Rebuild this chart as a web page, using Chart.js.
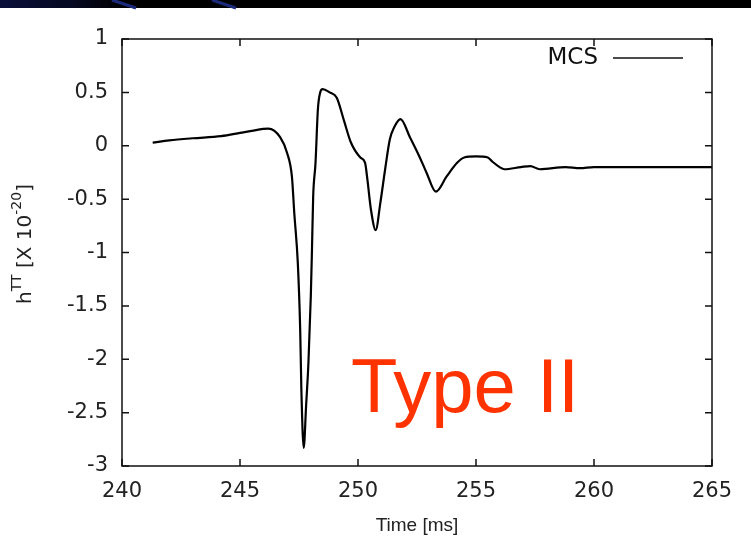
<!DOCTYPE html>
<html>
<head>
<meta charset="utf-8">
<script src="https://cdn.jsdelivr.net/npm/chart.js@4.4.1/dist/chart.umd.min.js"></script>
<style>
    body { margin: 0; background: #ffffff; }
    #wrap { width: 751px; height: 538px; position: relative; }
</style>
</head>
<body>
<div id="wrap"><canvas id="waveChart" width="751" height="538"></canvas></div>
<script>
// Zeitachse in ms
const times = [241.3, 242.0, 243.0, 244.2, 245.0, 245.5, 246.2, 246.7, 247.0, 247.2, 247.3, 247.45, 247.55, 247.6, 247.7,
    247.8, 247.9, 248.0, 248.05, 248.1, 248.2, 248.3, 248.4, 248.5, 248.8, 249.1, 249.4, 249.7, 250.1, 250.3,
    250.4, 250.55, 250.75, 250.95, 251.15, 251.35, 251.55, 251.8, 252.2, 252.6, 252.9, 253.3, 253.75, 254.2,
    254.5, 255.0, 255.5, 255.7, 256.0, 256.2, 256.9, 257.3, 257.7, 258.8, 259.4, 260.0, 261.0, 262.0, 263.0, 264.0, 265.0]
// h^TT Werte [x 10^-20]
const strain = [0.03, 0.05, 0.07, 0.09, 0.12, 0.14, 0.16, 0.08, -0.07, -0.29, -0.63, -1.1, -1.72, -2.28, -2.83,
    -2.44, -2.03, -1.41, -0.97, -0.48, -0.16, 0.34, 0.5, 0.53, 0.5, 0.45, 0.24, 0.03, -0.11, -0.16,
    -0.32, -0.6, -0.79, -0.53, -0.22, 0.06, 0.18, 0.25, 0.08, -0.1, -0.25, -0.43, -0.29, -0.16,
    -0.11, -0.1, -0.11, -0.15, -0.2, -0.22, -0.2, -0.19, -0.22, -0.2, -0.21, -0.2, -0.2, -0.2, -0.2, -0.2, -0.2]
const xTicks = [240, 245, 250, 255, 260, 265]
const yTicks = [1, 0.5, 0, -0.5, -1, -1.5, -2, -2.5, -3]
const seriesName = "MCS"
const typeLabel = "Type II"

let points = []
for (let i = 0; i < times.length; i++) {
    points.push({ x: times[i], y: strain[i] })
}

const fontName = "'Liberation Sans', Arial, sans-serif"
const tickFont = "'DejaVu Sans', sans-serif"

// Rahmen, Ticks nach innen, Legende, Titel (gnuplot Stil)
const gnuplotFrame = {
    id: 'gnuplotFrame',
    beforeDraw(chart) {
        let ctx = chart.ctx
        ctx.save()
        ctx.fillStyle = '#ffffff'
        ctx.fillRect(0, 0, chart.width, chart.height)
        // dunkler Folienrand oben
        let grad = ctx.createLinearGradient(0, 0, 500, 0)
        grad.addColorStop(0, '#0a0f3a')
        grad.addColorStop(0.15, '#05081f')
        grad.addColorStop(0.25, '#000000')
        grad.addColorStop(1, '#000000')
        ctx.fillStyle = grad
        ctx.fillRect(0, 0, chart.width, 8)
        ctx.strokeStyle = '#1b2a7a'
        ctx.lineWidth = 3
        ctx.beginPath()
        ctx.moveTo(112, 0); ctx.lineTo(136, 8)
        ctx.moveTo(212, 0); ctx.lineTo(236, 8)
        ctx.stroke()
        ctx.restore()
    },
    afterDraw(chart) {
        let ctx = chart.ctx
        let area = chart.chartArea
        let xs = chart.scales.x
        let ys = chart.scales.y
        ctx.save()
        ctx.strokeStyle = '#111111'
        ctx.lineWidth = 1.5
        ctx.strokeRect(area.left, area.top, area.right - area.left, area.bottom - area.top)
        ctx.beginPath()
        for (let v of xTicks) {
            let px = xs.getPixelForValue(v)
            ctx.moveTo(px, area.bottom); ctx.lineTo(px, area.bottom - 7)
            ctx.moveTo(px, area.top); ctx.lineTo(px, area.top + 7)
        }
        for (let v of yTicks) {
            let py = ys.getPixelForValue(v)
            ctx.moveTo(area.left, py); ctx.lineTo(area.left + 7, py)
            ctx.moveTo(area.right, py); ctx.lineTo(area.right - 7, py)
        }
        ctx.stroke()

        // Legende
        ctx.fillStyle = '#111111'
        ctx.font = '23px ' + tickFont
        ctx.textAlign = 'right'
        ctx.textBaseline = 'middle'
        ctx.fillText(chart.data.datasets[0].label, 598, 58)
        ctx.lineWidth = 1.5
        ctx.beginPath()
        ctx.moveTo(613, 58); ctx.lineTo(683, 58)
        ctx.stroke()

        // Y Achsentitel mit Hochstellung
        ctx.translate(24, 244)
        ctx.rotate(-Math.PI / 2)
        ctx.textAlign = 'left'
        ctx.textBaseline = 'alphabetic'
        ctx.fillStyle = '#222222'
        let parts = [['h', 20, 0], ['TT', 14, -10], [' [X 10', 20, 0], ['-20', 14, -10], [']', 20, 0]]
        let total = 0
        for (let p of parts) { ctx.font = p[1] + 'px ' + tickFont; total += ctx.measureText(p[0]).width }
        let cx = -total / 2
        for (let p of parts) {
            ctx.font = p[1] + 'px ' + tickFont
            ctx.fillText(p[0], cx, 7 + p[2])
            cx += ctx.measureText(p[0]).width
        }
        ctx.setTransform(1, 0, 0, 1, 0, 0)

        // Type II Beschriftung
        ctx.fillStyle = '#ff3300'
        ctx.font = '76px ' + fontName
        ctx.textAlign = 'left'
        ctx.textBaseline = 'alphabetic'
        ctx.fillText(typeLabel, 351, 412)
        ctx.restore()
    }
}

const chart = document.getElementById("waveChart")
let linechart = new Chart(chart, {
    type: "line",
    data: {
        datasets: [{
            label: seriesName,
            data: points,
            borderColor: "#000000",
            borderWidth: 2.2,
            pointRadius: 0,
            cubicInterpolationMode: 'monotone'
        }]
    },
    options: {
        responsive: false,
        animation: false,
        layout: {
            padding: { left: 0, top: 39, right: 39, bottom: 0 }
        },
        plugins: {
            legend: { display: false },
            tooltip: { enabled: false }
        },
        scales: {
            x: {
                type: 'linear',
                min: 240,
                max: 265,
                afterFit(scale) { scale.height = 72 },
                afterBuildTicks(scale) { scale.ticks = xTicks.map(v => ({ value: v })) },
                grid: { display: false, drawTicks: false },
                border: { display: false },
                ticks: {
                    color: "#222222",
                    padding: 13,
                    maxRotation: 0,
                    callback: v => String(v),
                    font: { size: 21, family: tickFont }
                },
                title: {
                    display: true,
                    text: "Time [ms]",
                    color: "#222222",
                    padding: { top: 0, bottom: 1 },
                    font: { size: 19, family: fontName }
                }
            },
            y: {
                min: -3,
                max: 1,
                afterFit(scale) { scale.width = 122 },
                afterBuildTicks(scale) { scale.ticks = yTicks.map(v => ({ value: v })) },
                grid: { display: false, drawTicks: false },
                border: { display: false },
                ticks: {
                    color: "#222222",
                    padding: 14,
                    callback: v => String(v),
                    font: { size: 21, family: tickFont }
                }
            }
        }
    },
    plugins: [gnuplotFrame]
})
</script>
</body>
</html>
